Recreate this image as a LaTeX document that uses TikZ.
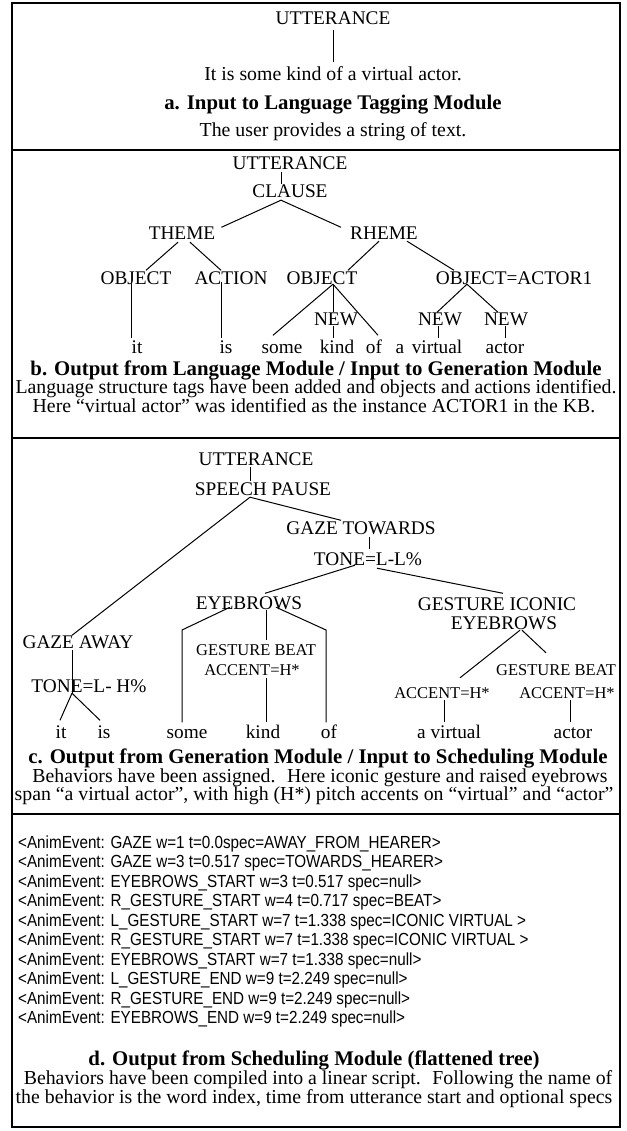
\documentclass[tikz,border=0pt]{standalone}
\usepackage{fontspec}
\setmainfont{Liberation Serif}
\newfontfamily\narrowsans[FakeStretch=0.87]{Liberation Sans}
\usepackage{tikz}

\begin{document}
\begin{tikzpicture}[x=1pt,y=-1pt,
  tag/.style={inner sep=0pt,anchor=base,text height=12.5pt,text depth=0pt,font=\fontsize{19.3}{22}\selectfont},
  subtag/.style={tag,text height=11pt,font=\fontsize{16.5}{19}\selectfont},
  capt/.style={inner sep=0pt,anchor=base,font=\fontsize{19.8}{22}\selectfont},
  heading/.style={capt,font=\fontsize{20.8}{23}\selectfont\bfseries},
  event/.style={inner sep=0pt,anchor=base west,font=\fontsize{17.5}{20}\narrowsans},
  branch/.style={line width=1pt},
  panelframe/.style={line width=1.6pt}]
\useasboundingbox (0,0) rectangle (626,1131);
\draw[panelframe] (12,3) rectangle (620,1127);
\draw[panelframe] (12,150) -- (620,150);
\draw[panelframe] (12,438) -- (620,438);
\draw[panelframe] (12,814) -- (620,814);

% a
\node[tag] (utta) at (333,25) {UTTERANCE};
\node[capt] (sentence) at (333,81) {It is some kind of a virtual actor.};
\node[heading] (heada) at (333,110) {a. Input to Language Tagging Module};
\node[capt] (capa) at (333,137) {The user provides a string of text.};
\draw[branch] ([yshift=-5pt]utta.south) -- ([yshift=19pt]sentence.base);

% b
\node[tag] (uttb) at (290,170) {UTTERANCE};
\node[tag] (clause) at (290,198) {CLAUSE};
\node[tag] (theme) at (182,240) {THEME};
\node[tag] (rheme) at (384,240) {RHEME};
\node[tag] (objl) at (136,284) {OBJECT};
\node[tag] (action) at (231,284) {ACTION};
\node[tag] (objm) at (322,284) {OBJECT};
\node[tag] (objr) at (514,284) {OBJECT=ACTOR1};
\node[tag] (newm) at (336,325) {NEW};
\node[tag] (newa) at (440,325) {NEW};
\node[tag] (newb) at (506,325) {NEW};
\node[tag] (itb) at (137,353) {it};
\node[tag] (isb) at (226,353) {is};
\node[tag] (someb) at (282,353) {some};
\node[tag] (kindb) at (337,353) {kind};
\node[tag] (ofb) at (374,353) {of};
\node[tag] (ab) at (400,353) {a};
\node[tag] (virtb) at (437,353) {virtual};
\node[tag] (actorb) at (505,353) {actor};
\draw[branch] ([xshift=-9pt,yshift=-2pt]uttb.south) -- ([xshift=-9pt,yshift=1pt]clause.north);
\draw[branch] ([xshift=-9pt,yshift=-2pt]clause.south) -- ([xshift=6pt]theme.north east);
\draw[branch] ([xshift=-9pt,yshift=-2pt]clause.south) -- ([xshift=-9pt]rheme.north west);
\draw[branch] ([xshift=-4pt,yshift=-2pt]theme.south) -- ([xshift=10pt,yshift=1pt]objl.north);
\draw[branch] ([xshift=8pt,yshift=-2pt]theme.south) -- ([xshift=-10pt,yshift=1pt]action.north);
\draw[branch] ([xshift=-5pt,yshift=2pt]objl.south) -- ([xshift=-6pt,yshift=2pt]itb.north);
\draw[branch] ([xshift=-10pt,yshift=2pt]action.south) -- ([xshift=-5pt,yshift=2pt]isb.north);
\draw[branch] ([xshift=-5pt,yshift=-1pt]rheme.south) -- ([xshift=26pt,yshift=1pt]objm.north);
\draw[branch] ([xshift=23pt,yshift=-1pt]rheme.south) -- ([xshift=-60pt,yshift=1pt]objr.north);
\draw[branch] ([xshift=11pt]objm.south) -- ([xshift=-9pt,yshift=5pt]someb.north);
\draw[branch] ([xshift=11pt]objm.south) -- ([xshift=-3pt]newm.north);
\draw[branch] ([xshift=11pt]objm.south) -- ([xshift=4pt,yshift=5pt]ofb.north);
\draw[branch] ([xshift=-3pt,yshift=-1pt]newm.south) -- ([xshift=-4pt,yshift=2pt]kindb.north);
\draw[branch] ([xshift=-47pt]objr.south) -- ([xshift=-3pt]newa.north);
\draw[branch] ([xshift=-47pt]objr.south) -- ([xshift=-8pt]newb.north);
\draw[branch] ([xshift=-2pt,yshift=-1pt]newa.south) -- ([xshift=1pt,yshift=2pt]virtb.north);
\draw[branch] ([xshift=-1pt,yshift=-1pt]newb.south) -- ([yshift=2pt]actorb.north);
\node[heading] (headb) at (316,375) {b. Output from Language Module / Input to Generation Module};
\node[capt] (capb1) at (316,393.5) {Language structure tags have been added and objects and actions identified.};
\node[capt] (capb2) at (314,412) {Here “virtual actor” was identified as the instance ACTOR1 in the KB.};

% c
\node[tag] (uttc) at (256,465) {UTTERANCE};
\node[tag] (speech) at (263,495) {SPEECH PAUSE};
\node[tag] (gazet) at (361,534) {GAZE TOWARDS};
\node[tag] (tonet) at (368,565) {TONE=L-L\%};
\node[tag] (eyebl) at (249,609) {EYEBROWS};
\node[tag] (gicona) at (497,610) {GESTURE ICONIC};
\node[tag] (giconb) at (504,629) {EYEBROWS};
\node[tag] (gazea) at (78,648) {GAZE AWAY};
\node[subtag] (gbeatl) at (256,655) {GESTURE BEAT};
\node[subtag] (accl) at (252,675) {ACCENT=H*};
\node[tag] (toneh) at (89,692) {TONE=L- H\%};
\node[subtag] (gbeatr) at (556,675) {GESTURE BEAT};
\node[subtag] (acca) at (442,698) {ACCENT=H*};
\node[subtag] (accr) at (567,698) {ACCENT=H*};
\node[tag] (itc) at (61,738) {it};
\node[tag] (isc) at (104,738) {is};
\node[tag] (somec) at (187,738) {some};
\node[tag] (kindc) at (263,738) {kind};
\node[tag] (ofc) at (329,738) {of};
\node[tag] (avirtc) at (449,738) {a virtual};
\node[tag] (actorc) at (573,738) {actor};
\coordinate (ebbendl) at (182,630);
\coordinate (ebbendr) at (326,630);
\draw[branch] ([xshift=-6pt,yshift=-2pt]uttc.south) -- ([xshift=-13pt,yshift=1pt]speech.north);
\draw[branch] ([xshift=-13pt,yshift=-2pt]speech.south) -- ([xshift=-6pt]gazea.north);
\draw[branch] ([xshift=-13pt,yshift=-2pt]speech.south) -- ([xshift=-20pt,yshift=1pt]gazet.north);
\draw[branch] ([xshift=8pt,yshift=-3pt]gazet.south) -- ([xshift=1pt,yshift=3pt]tonet.north);
\draw[branch] ([xshift=-13pt]tonet.south) -- ([xshift=16pt,yshift=3pt]eyebl.north);
\draw[branch] ([xshift=9pt,yshift=-3pt]tonet.south) -- ([xshift=6pt,yshift=4pt]gicona.north);
\draw[branch] ([xshift=-19pt,yshift=2pt]eyebl.south) -- (ebbendl) -- ([xshift=-5pt,yshift=3pt]somec.north);
\draw[branch] ([xshift=17pt,yshift=-1pt]eyebl.south) -- ([xshift=10pt,yshift=4pt]gbeatl.north);
\draw[branch] ([xshift=27pt,yshift=2pt]eyebl.south) -- (ebbendr) -- ([xshift=-3pt,yshift=3pt]ofc.north);
\draw[branch] ([xshift=14pt,yshift=-3pt]accl.south) -- ([xshift=3pt,yshift=3pt]kindc.north);
\draw[branch] ([xshift=16pt,yshift=-1pt]giconb.south) -- ([xshift=18pt,yshift=9pt]acca.north);
\draw[branch] ([xshift=18pt,yshift=-1pt]giconb.south) -- ([xshift=-10pt,yshift=11pt]gbeatr.north);
\draw[branch] ([xshift=2pt,yshift=-2pt]acca.south) -- ([xshift=-5pt,yshift=3pt]avirtc.north);
\draw[branch] ([xshift=3pt,yshift=-2pt]accr.south) -- ([xshift=-3pt,yshift=3pt]actorc.north);
\draw[branch] ([xshift=-6pt,yshift=-2pt]gazea.south) -- ([xshift=-17pt,yshift=-1pt]toneh.south);
\draw[branch] ([xshift=-17pt,yshift=-1pt]toneh.south) -- ([xshift=-1pt,yshift=5pt]itc.north);
\draw[branch] ([xshift=-17pt,yshift=-1pt]toneh.south) -- ([xshift=-4pt,yshift=5pt]isc.north);
\node[heading] (headc) at (318,763) {c. Output from Generation Module / Input to Scheduling Module};
\node[capt] (capc1) at (320,782) {Behaviors have been assigned.~ Here iconic gesture and raised eyebrows};
\node[capt] (capc2) at (314,800) {span “a virtual actor”, with high (H*) pitch accents on “virtual” and “actor”};

% d
\node[event] (ev0) at (18,848) {<AnimEvent: GAZE w=1 t=0.0spec=AWAY\_FROM\_HEARER>};
\node[event] (ev1) at (18,867.5) {<AnimEvent: GAZE w=3 t=0.517 spec=TOWARDS\_HEARER>};
\node[event] (ev2) at (18,887) {<AnimEvent: EYEBROWS\_START w=3 t=0.517 spec=null>};
\node[event] (ev3) at (18,906.5) {<AnimEvent: R\_GESTURE\_START w=4 t=0.717 spec=BEAT>};
\node[event] (ev4) at (18,926) {<AnimEvent: L\_GESTURE\_START w=7 t=1.338 spec=ICONIC VIRTUAL >};
\node[event] (ev5) at (18,945.5) {<AnimEvent: R\_GESTURE\_START w=7 t=1.338 spec=ICONIC VIRTUAL >};
\node[event] (ev6) at (18,965) {<AnimEvent: EYEBROWS\_START w=7 t=1.338 spec=null>};
\node[event] (ev7) at (18,984.5) {<AnimEvent: L\_GESTURE\_END w=9 t=2.249 spec=null>};
\node[event] (ev8) at (18,1004) {<AnimEvent: R\_GESTURE\_END w=9 t=2.249 spec=null>};
\node[event] (ev9) at (18,1023.5) {<AnimEvent: EYEBROWS\_END w=9 t=2.249 spec=null>};
\node[heading] (headd) at (314,1065) {d. Output from Scheduling Module (flattened tree)};
\node[capt] (capd1) at (318,1084) {Behaviors have been compiled into a linear script.~ Following the name of};
\node[capt] (capd2) at (314,1103) {the behavior is the word index, time from utterance start and optional specs};
\end{tikzpicture}
\end{document}
